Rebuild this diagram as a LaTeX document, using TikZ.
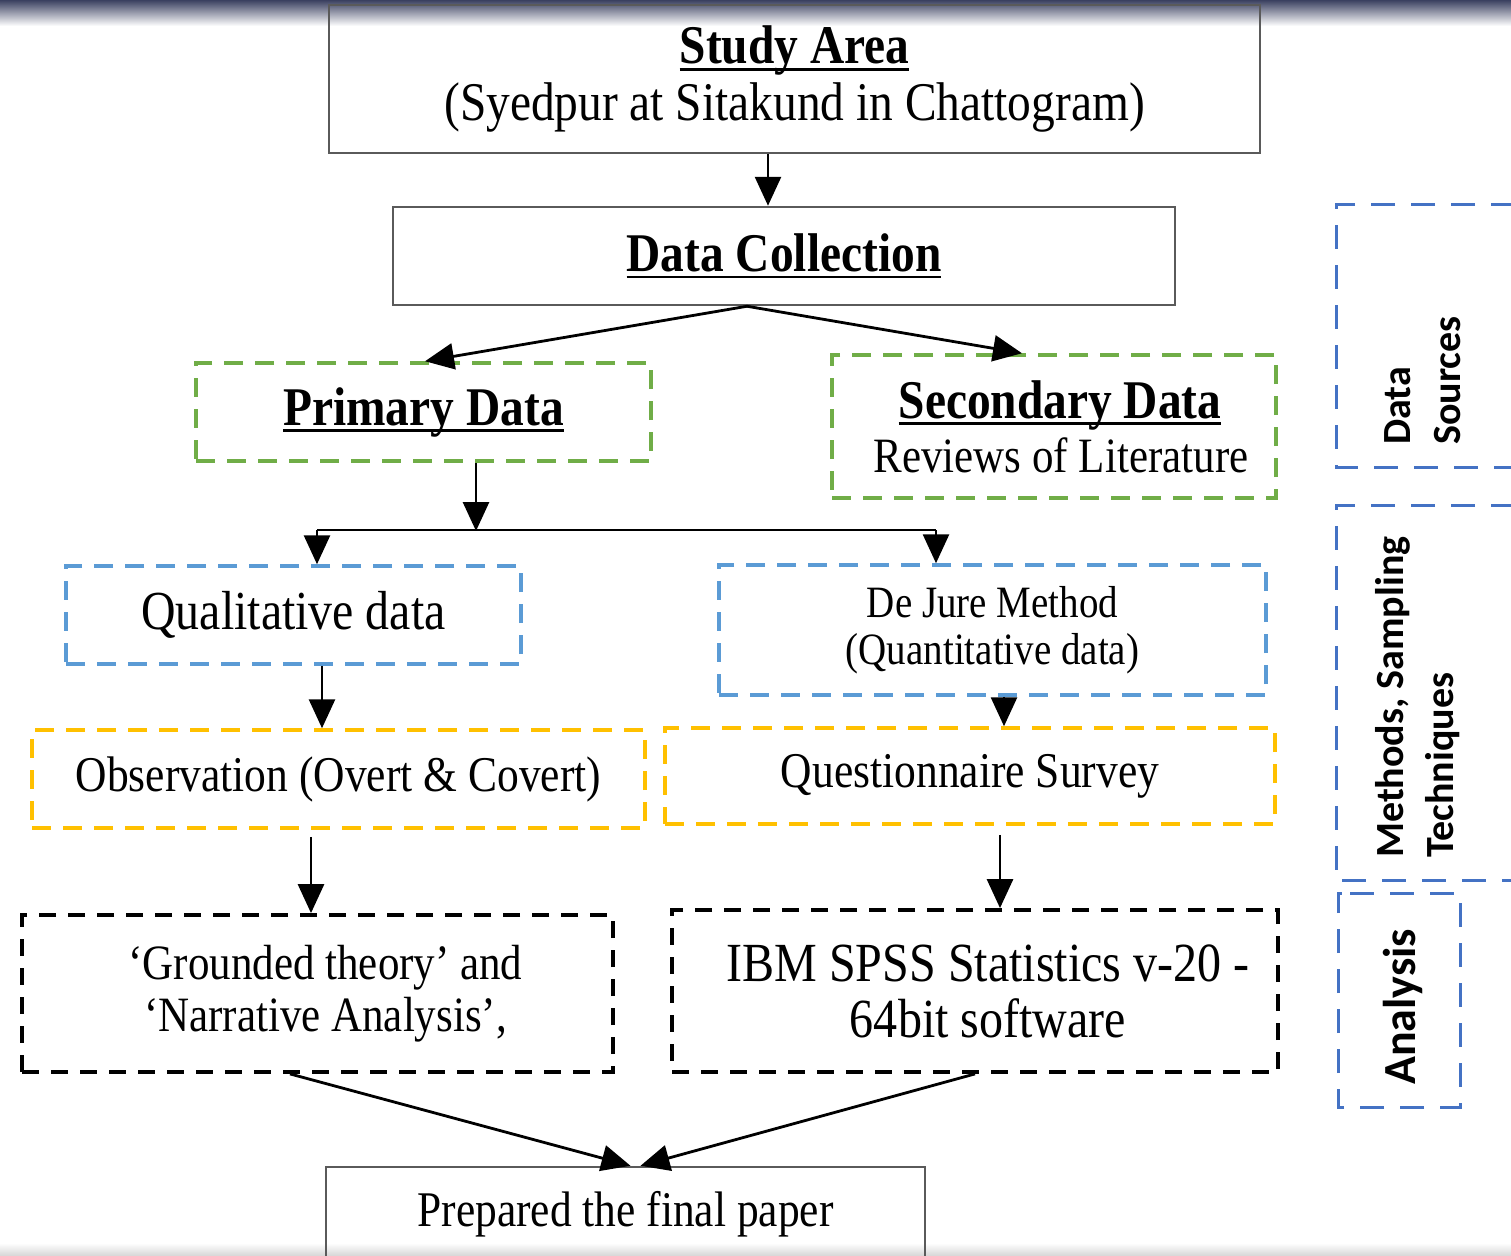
\documentclass[tikz,border=0pt]{standalone}
\usepackage{fontspec}
\setmainfont[FakeStretch=0.87]{Liberation Serif}
\newfontfamily\calib{Carlito}
\usetikzlibrary{arrows.meta}
\definecolor{gboxc}{HTML}{70AD47}
\definecolor{bboxc}{HTML}{5B9BD5}
\definecolor{rboxc}{HTML}{4472C4}
\definecolor{yboxc}{HTML}{FFC000}
\definecolor{sboxc}{HTML}{5A5A5A}
\definecolor{topdark}{HTML}{3A4060}
\newcommand\ulx[1]{\setbox0\hbox{#1}\rlap{\raisebox{-7pt}{\rule{\wd0}{2.8pt}}}\box0}
\begin{document}
\begin{tikzpicture}[x=1pt,y=-1pt,
  solidbox/.style={draw=sboxc, line width=2.5pt, inner sep=0pt, align=center},
  dbox/.style={line width=3.5pt, dash pattern=on 19pt off 12pt, inner sep=0pt, align=center},
  blackbox/.style={draw=black, line width=3.8pt, dash pattern=on 17pt off 12pt, inner sep=0pt, align=center},
  sidebox/.style={draw=rboxc, line width=3pt, dash pattern=on 24pt off 16pt},
  arr/.style={line width=2.8pt, -{Triangle[length=29pt,width=26pt]}},
  plain/.style={line width=2.5pt},
  sidelabel/.style={rotate=90, inner sep=0pt, align=left, font=\calib\bfseries\fontsize{40}{50}\selectfont}]
\useasboundingbox (0,0) rectangle (1511,1255);
\fill[white] (0,0) rectangle (1511,1255);
\shade[top color=topdark, bottom color=white] (0,0) rectangle (1511,26);
\shade[top color=white, bottom color=black!15] (0,1243) rectangle (1511,1255);

% main nodes
\node[solidbox, minimum width=931pt, minimum height=148pt,
      font=\fontsize{54.5}{57}\selectfont] (study) at (794.5,79)
  {{\bfseries\ulx{Study Area}}\\(Syedpur at Sitakund in Chattogram)};
\node[solidbox, minimum width=782pt, minimum height=98pt,
      font=\fontsize{54.5}{57}\selectfont\bfseries] (dc) at (784,256)
  {\ulx{Data Collection}};
\node[dbox, draw=gboxc, minimum width=455pt, minimum height=98pt,
      font=\fontsize{54.5}{57}\selectfont\bfseries] (primary) at (423.5,412)
  {\ulx{Primary Data}};
\node[dbox, draw=gboxc, minimum width=444pt, minimum height=143pt,
      font=\fontsize{49.4}{54}\selectfont] (secondary) at (1054,426.5)
  {\hspace*{12pt}{\fontsize{54.5}{54}\selectfont\bfseries\ulx{Secondary Data}}\\\hspace*{14pt}Reviews of Literature};
\node[dbox, draw=bboxc, minimum width=455pt, minimum height=98pt,
      font=\fontsize{55}{57}\selectfont] (qual) at (293.5,615)
  {Qualitative data};
\node[dbox, draw=bboxc, minimum width=547pt, minimum height=130pt,
      font=\fontsize{44.8}{47}\selectfont] (dejure) at (992.5,630)
  {De Jure Method\\(Quantitative data)};
\node[dbox, draw=yboxc, minimum width=613pt, minimum height=98pt,
      font=\fontsize{50}{52}\selectfont] (obs) at (338.5,779)
  {Observation (Overt \& Covert)};
\node[dbox, draw=yboxc, minimum width=610pt, minimum height=96pt,
      font=\fontsize{50}{52}\selectfont] (quest) at (970,776)
  {Questionnaire Survey};
\node[blackbox, minimum width=591pt, minimum height=157pt,
      font=\fontsize{49.4}{52}\selectfont] (grounded) at (317.5,993.5)
  {\hspace*{16pt}‘Grounded theory’ and\\\hspace*{16pt}‘Narrative Analysis’,};
\node[blackbox, minimum width=606pt, minimum height=162pt,
      font=\fontsize{55.2}{56}\selectfont] (ibm) at (975,991)
  {\hspace*{26pt}IBM SPSS Statistics v-20 -\\\hspace*{26pt}64bit software};
\node[solidbox, minimum width=599pt, minimum height=95pt,
      font=\fontsize{49.9}{52}\selectfont] (final) at (625.5,1214.5)
  {Prepared the final paper};

% connectors
\draw[arr] ([xshift=-26.5pt]study.south) -- ([xshift=-26.5pt]study.south |- dc.north);
\draw[arr] ([xshift=-37pt]dc.south) -- ([xshift=1.5pt]primary.north);
\draw[arr] ([xshift=-37pt]dc.south) -- ([xshift=-32pt]secondary.north);
\coordinate (split) at (476,530);
\draw[arr] (primary.south -| split) -- ([yshift=-1pt]split);
\draw[plain] ([xshift=23.5pt]qual.north |- split) -- ([xshift=-56.5pt]dejure.north |- split);
\draw[arr] ([xshift=23.5pt]qual.north |- split) -- ([xshift=23.5pt]qual.north);
\draw[arr] ([xshift=-56.5pt]dejure.north |- split) -- ([xshift=-56.5pt]dejure.north);
\draw[arr] ([xshift=28.5pt]qual.south) -- ([xshift=28.5pt]qual.south |- obs.north);
\draw[arr] ([xshift=11.5pt]dejure.south) -- ([xshift=11.5pt]dejure.south |- quest.north);
\draw[arr, shorten <=7pt] ([xshift=-6.5pt]grounded.north |- obs.south) -- ([xshift=-6.5pt]grounded.north);
\draw[arr, shorten <=9pt] ([xshift=30pt]quest.south) -- ([xshift=30pt]quest.south |- ibm.north);
\draw[arr] ([xshift=-27.5pt]grounded.south) -- ([xshift=5pt]final.north);
\draw[arr] (ibm.south) -- ([xshift=15pt]final.north);

% side panels
\draw[sidebox] (1515,204) -- (1336,204) -- (1336,467) -- (1515,467);
\draw[sidebox] (1515,505) -- (1336,505) -- (1336,880) -- (1515,880);
\draw[sidebox] (1350,893) -- (1460,893) -- (1460,1107) -- (1338,1107) -- (1338,893) -- cycle;
\node[sidelabel, anchor=west] (srcl) at (1423,445) {Data\\Sources};
\node[sidelabel, anchor=west] (methl) at (1418,858) {Methods, Sampling\\Techniques};
\node[sidelabel, anchor=west, font=\calib\bfseries\fontsize{46}{50}\selectfont] (anal) at (1403,1085) {Analysis};
\end{tikzpicture}
\end{document}
